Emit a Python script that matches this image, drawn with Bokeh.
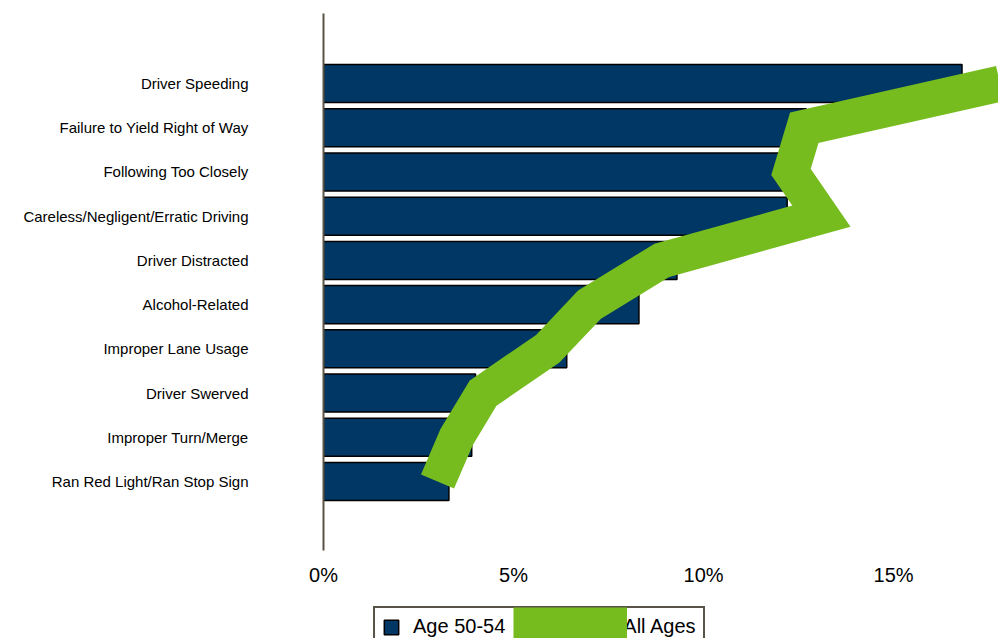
from bokeh.plotting import figure
from bokeh.layouts import column
from bokeh.models import FixedTicker, Legend, LegendItem, ColumnDataSource, Range1d
from bokeh.core.properties import value
from bokeh.embed import file_html
from bokeh.resources import INLINE

# ---- data ----
categories = [
    "Driver Speeding",
    "Failure to Yield Right of Way",
    "Following Too Closely",
    "Careless/Negligent/Erratic Driving",
    "Driver Distracted",
    "Alcohol-Related",
    "Improper Lane Usage",
    "Driver Swerved",
    "Improper Turn/Merge",
    "Ran Red Light/Ran Stop Sign",
]
age_50_54 = [16.8, 12.7, 12.2, 12.2, 9.3, 8.3, 6.4, 4.0, 3.9, 3.3]
all_ages = [17.8, 12.65, 12.3, 13.1, 8.9, 7.0, 5.9, 4.2, 3.5, 3.0]
x_ticks = [0, 5, 10, 15]
x_tick_labels = ["0%", "5%", "10%", "15%"]
series_names = ["Age 50-54", "All Ages"]

n = len(categories)
ypos = [n - 1 - i for i in range(n)]

src = ColumnDataSource(dict(y=ypos, bar=age_50_54, line=all_ages, cat=categories))

FONT = "Liberation Sans"
NAVY = "#003764"
GREEN = "#77bc1f"
AXIS = "#595447"

bar_style = dict(fill_color=NAVY, line_color="black", line_width=1.5)
line_style = dict(line_color=GREEN, line_width=36, line_join="miter", line_cap="butt")

# ---------------- main chart ----------------
p = figure(
    width=998, height=595,
    output_backend="svg", toolbar_location=None,
    x_range=Range1d(0, 17.76), y_range=Range1d(-1.56, 10.583),
    min_border_left=323, min_border_right=0, min_border_top=13, min_border_bottom=45,
)
p.outline_line_color = None
p.xgrid.visible = False
p.ygrid.visible = False
p.background_fill_color = "white"
p.border_fill_color = "white"

p.hbar(y="y", right="bar", left=0, height=0.86, source=src, **bar_style)
p.line(x="line", y="y", source=src, **line_style)

xa = p.xaxis[0]
xa.ticker = FixedTicker(ticks=x_ticks)
xa.major_label_overrides = {t: l for t, l in zip(x_ticks, x_tick_labels)}
xa.axis_line_color = None
xa.major_tick_line_color = None
xa.minor_tick_line_color = None
xa.major_tick_out = 0
xa.major_tick_in = 0
xa.major_label_text_font = FONT
xa.major_label_text_font_size = "20px"
xa.major_label_text_color = "black"
xa.major_label_standoff = 13

ya = p.yaxis[0]
ya.ticker = FixedTicker(ticks=ypos)
ya.major_label_overrides = {y: c for y, c in zip(ypos, categories)}
ya.axis_line_color = AXIS
ya.axis_line_width = 2
ya.major_tick_line_color = None
ya.minor_tick_line_color = None
ya.major_tick_out = 0
ya.major_tick_in = 0
ya.major_label_text_font = FONT
ya.major_label_text_font_size = "15px"
ya.major_label_text_color = "black"
ya.major_label_standoff = 75

# ---------------- legend strip ----------------
lg = figure(
    width=998, height=43,
    output_backend="svg", toolbar_location=None,
    x_axis_location=None, y_axis_location=None,
    x_range=Range1d(0, 1), y_range=Range1d(0, 1),
    min_border_left=323, min_border_right=0, min_border_top=0, min_border_bottom=0,
)
lg.outline_line_color = None
lg.xgrid.visible = False
lg.ygrid.visible = False
lg.background_fill_color = "white"
lg.border_fill_color = "white"

bars_key = lg.hbar(y="y", right="bar", left=0, height=0.86, source=src, visible=False, **bar_style)
line_key = lg.line(x="line", y="y", source=src, visible=False, **line_style)

legA = Legend(
    items=[LegendItem(label=series_names[0], renderers=[bars_key]),
           LegendItem(label=series_names[1], renderers=[line_key])],
    orientation="horizontal", location=(50, -9), margin=0,
    glyph_width=18, glyph_height=18, padding=7, spacing=87, label_standoff=13,
    label_text_font=FONT, label_text_font_size="20px", label_text_color="black",
    border_line_color=AXIS, border_line_width=2, border_line_alpha=1.0,
    background_fill_color="white", background_fill_alpha=1.0,
)
lg.add_layout(legA, "center")

legB = Legend(
    items=[LegendItem(label=value(" "), renderers=[line_key])],
    orientation="horizontal", location=(190, -5), margin=0,
    glyph_width=114, glyph_height=36, label_height=36, padding=0, label_standoff=0,
    label_text_font=FONT, label_text_font_size="10px",
    border_line_alpha=0, background_fill_alpha=0,
)
lg.add_layout(legB, "center")

page = column(p, lg, spacing=0)
open("out.html", "w").write(file_html(page, INLINE))
